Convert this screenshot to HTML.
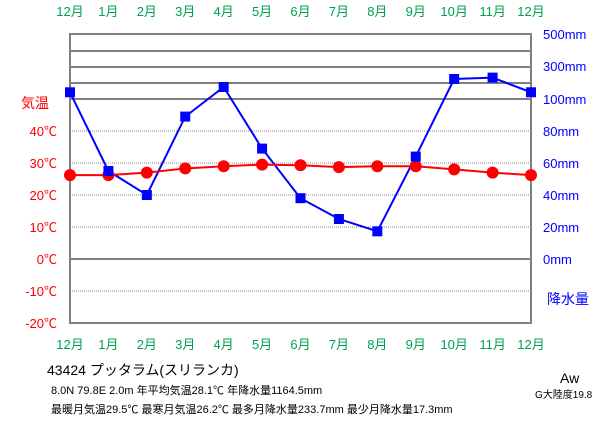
<!DOCTYPE html>
<html><head><meta charset="utf-8"><style>
body{margin:0;background:#fff;width:611px;height:425px;overflow:hidden;font-family:"Liberation Sans","Noto Sans CJK JP",sans-serif}
svg text{font-family:"Liberation Sans","Noto Sans CJK JP",sans-serif}
</style></head><body>
<svg width="611" height="425">
<g id="grid"></g><g id="labels"></g><g id="series"></g>
<g id="info" font-size="12" fill="#000">
<text x="47" y="375" font-size="14">43424 プッタラム(スリランカ)</text>
<text x="51" y="394" font-size="11">8.0N 79.8E 2.0m 年平均気温28.1℃ 年降水量1164.5mm</text>
<text x="51" y="413" font-size="11">最暖月気温29.5℃ 最寒月気温26.2℃ 最多月降水量233.7mm 最少月降水量17.3mm</text>
<text x="560" y="383" font-size="14">Aw</text>
<text x="535" y="398" font-size="10">G大陸度19.8</text>
</g>
</svg>
<script>
const months=["12月","1月","2月","3月","4月","5月","6月","7月","8月","9月","10月","11月","12月"];
const temps=[26.2,26.2,27.0,28.3,29.0,29.5,29.3,28.7,29.0,29.0,28.0,27.0,26.2];
const precip=[142,55,40,89,175,69,38,25,17.3,64,225,233.7,142];
const tempTicks=[40,30,20,10,0,-10,-20];
const precipTicksLow=[80,60,40,20,0];
const precipTicksHigh=[100,300,500];
const NS="http://www.w3.org/2000/svg";
const L=70,R=531,T=34,B=323;
const x=i=>L+i*(R-L)/12;
const yT=t=>259-t*3.2;
const yP=p=>p<=100?259-p*1.6:99-(p-100)*0.16;
function mk(tag,attrs,parent,txt){const e=document.createElementNS(NS,tag);for(const k in attrs)e.setAttribute(k,attrs[k]);if(txt!==undefined)e.textContent=txt;document.getElementById(parent).appendChild(e);return e;}
// grid
tempTicks.forEach(t=>{if(t!==0&&t!==-20){const e=mk('line',{x1:L,x2:R,y1:yT(t),y2:yT(t),stroke:'#888','stroke-dasharray':'1,1','stroke-width':1},'grid');

}});
[100,200,300,400].forEach(p=>{const e=mk('line',{x1:L,x2:R,y1:yP(p),y2:yP(p),stroke:'#808080','stroke-width':2},'grid');

});
let z=mk('line',{x1:L,x2:R,y1:yT(0),y2:yT(0),stroke:'#808080','stroke-width':2},'grid');


let fr=mk('rect',{x:L,y:T,width:R-L,height:B-T,fill:'none',stroke:'#808080','stroke-width':2},'grid');


// labels
months.forEach((m,i)=>{[16,349].forEach(yy=>{const e=mk('text',{x:x(i),y:yy,'text-anchor':'middle','font-size':13,fill:'#00a050'},'labels',m);

});});
tempTicks.forEach(t=>{const e=mk('text',{x:57,y:yT(t)+5,'text-anchor':'end','font-size':13,fill:'#ff0000'},'labels',t+'℃');

});
let tt=mk('text',{x:21,y:108,'font-size':14,fill:'#ff0000'},'labels','気温');


precipTicksLow.concat(precipTicksHigh).forEach(p=>{const yy=p===500?T:p===300?66:yP(p);const e=mk('text',{x:543,y:yy+5,'font-size':13,fill:'#0000ff'},'labels',p+'mm');

});
let pt=mk('text',{x:547,y:304,'font-size':14,fill:'#0000ff'},'labels','降水量');


// series
let pl=mk('polyline',{points:precip.map((p,i)=>x(i)+','+yP(p)).join(' '),fill:'none',stroke:'#0000ff','stroke-width':2},'series');


let tl=mk('polyline',{points:temps.map((t,i)=>x(i)+','+yT(t)).join(' '),fill:'none',stroke:'#ff0000','stroke-width':2},'series');


temps.forEach((t,i)=>{const e=mk('circle',{cx:x(i),cy:yT(t),r:6,fill:'#ff0000'},'series');

});
precip.forEach((p,i)=>{const e=mk('rect',{x:x(i)-5,y:yP(p)-5,width:10,height:10,fill:'#0000ff'},'series');

});
</script>
</body></html>
